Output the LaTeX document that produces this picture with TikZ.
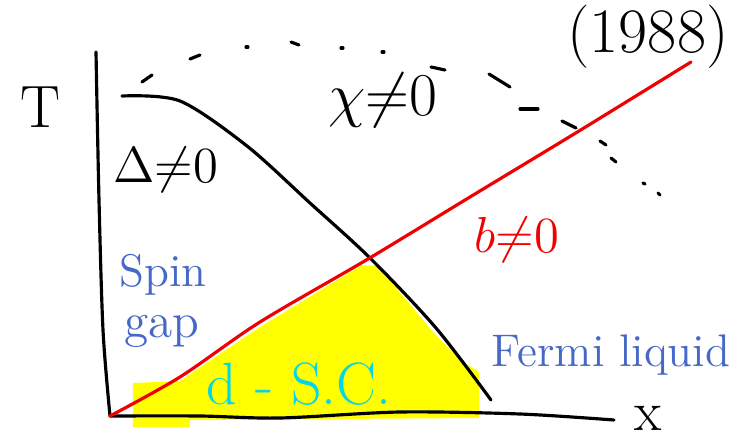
\documentclass[tikz,border=0pt]{standalone}
\usepackage{amssymb}
\definecolor{hlyellow}{RGB}{255,255,0}
\definecolor{penblue}{RGB}{70,105,200}
\definecolor{pencyan}{RGB}{0,215,235}
\definecolor{penred}{RGB}{240,0,0}
\tikzset{pen/.style={line width=0.9pt, line cap=round, line join=round}}

\begin{document}
\begin{tikzpicture}[x=0.01cm,y=-0.01cm]
\useasboundingbox (0,0) rectangle (732,436);
\coordinate (O) at (110,416);
\coordinate (Ttop) at (96,52);
\coordinate (Xend) at (614,420);
\coordinate (R) at (691,62);

% d-wave SC region
\fill[hlyellow] (133,383) -- (180,381) -- (260,327) -- (362,265) -- (378,266)
  -- (433,332) -- (460,360) -- (479,372) -- (479,418) -- (190,420)
  -- (190,427) -- (133,427) -- cycle;

% axes
\draw[pen] plot[smooth] coordinates {(Ttop) (99,200) (103,330) (O)};
\draw[pen] plot[smooth] coordinates {(O) (200,416) (280,418) (400,412) (520,414) (Xend)};

% pseudogap line
\draw[pen] plot[smooth] coordinates {(122,96) (180,101) (247,146) (310,203) (370,258) (436,328) (491,400)};

% b line
\draw[pen,penred] plot[smooth] coordinates {(O) (180,377) (260,322) (368,259) (470,197) (579,131) (R)};

% chi dome
\foreach \a/\b/\c/\d in {142/82/152/75, 190/59/200/55, 246/47/248/47, 291/42/299/45,
  341/48/343/48, 382/52/384/52, 431/67/445/70, 489/74/510/87, 520/109/538/109,
  562/121/576/128, 600/141/606/145, 611/158/616/162, 643/183/645/184, 658/193/660/195}
  \draw[pen] (\a,\b) -- (\c,\d);

\node[font=\fontsize{17}{17}\selectfont] (Tlab) at (40,107) {T};
\node[font=\fontsize{16}{16}\selectfont] (xlab) at (648,418) {x};
\node[font=\fontsize{18}{18}\selectfont] (chi) at (383,100) {$\chi{\neq}0$};
\node[font=\fontsize{14}{14}\selectfont] (Delta) at (166,170) {$\Delta{\neq}0$};
\node[font=\fontsize{18}{18}\selectfont] (year) at (648,37) {(1988)};
\node[font=\fontsize{14}{14}\selectfont,penred] (blab) at (517,240) {$b{\neq}0$};
\node[font=\fontsize{13}{13}\selectfont,penblue] (spin) at (163,275) {Spin};
\node[font=\fontsize{14}{14}\selectfont,penblue] (gap) at (162,331) {gap};
\node[font=\fontsize{17}{17}\selectfont,pencyan] (dsc) at (299,384) {d - S.C.};
\node[font=\fontsize{13}{13}\selectfont,penblue] (fl) at (611,355) {Fermi liquid};
\end{tikzpicture}
\end{document}
